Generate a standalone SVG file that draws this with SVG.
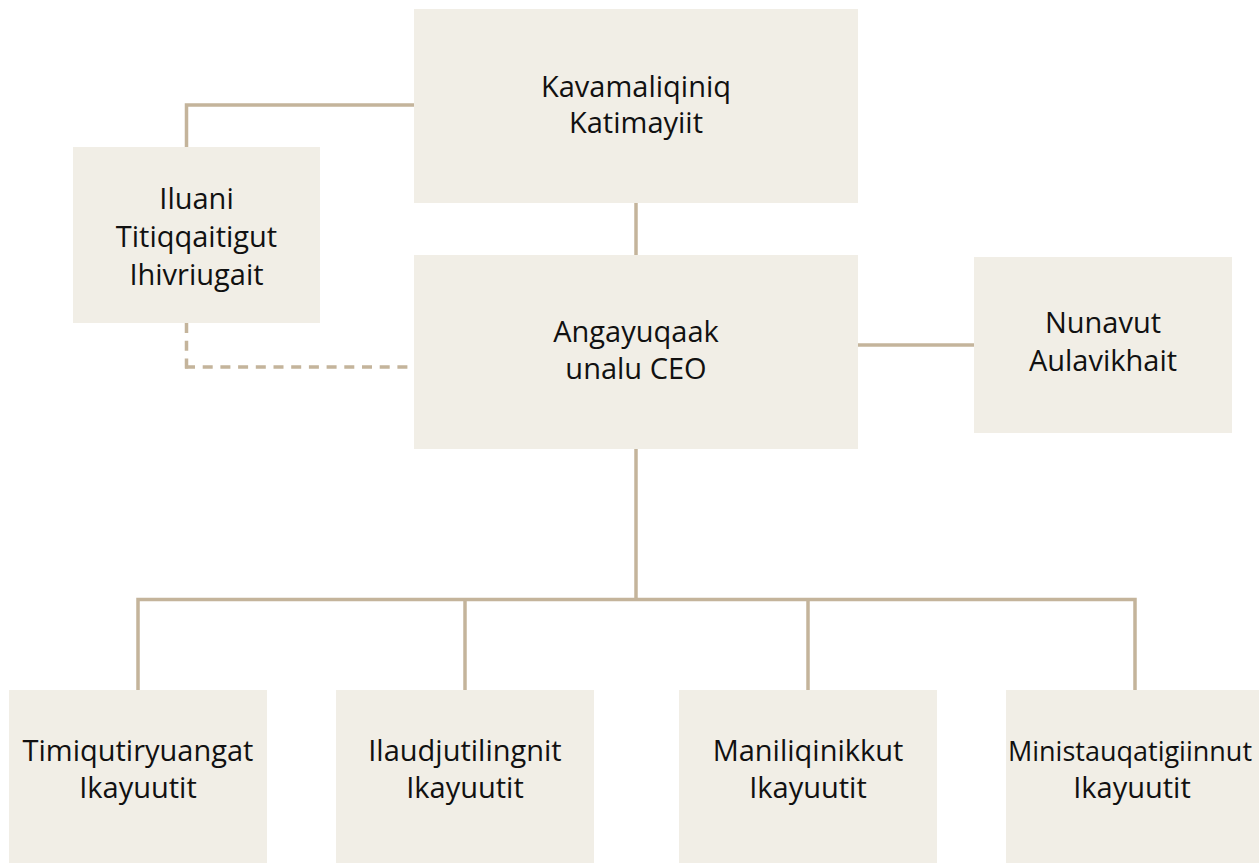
<svg xmlns="http://www.w3.org/2000/svg" width="1259" height="863" viewBox="0 0 1259 863">
<style>
.box{fill:#F1EEE6}
.lbl{font-family:"Open Sans","Noto Sans",sans-serif;font-size:29px;fill:#111111;text-anchor:middle}
.ln{stroke:#C4B49B;stroke-width:3.5;fill:none}
.dash{stroke-dasharray:10 7.7}
</style>
<rect width="1259" height="863" fill="#FFFFFF"/>
<g id="connectors">
<polyline class="ln" points="414,105 186.5,105 186.5,147"/>
<line class="ln dash" x1="186.5" y1="323" x2="186.5" y2="368.5"/>
<line class="ln dash" x1="185" y1="367" x2="414" y2="367"/>
<line class="ln" x1="636" y1="203" x2="636" y2="255"/>
<line class="ln" x1="858" y1="345" x2="974" y2="345"/>
<line class="ln" x1="636" y1="449" x2="636" y2="599.5"/>
<polyline class="ln" points="138,690 138,599.5 1135,599.5 1135,690"/>
<line class="ln" x1="465" y1="599.5" x2="465" y2="690"/>
<line class="ln" x1="808" y1="599.5" x2="808" y2="690"/>
</g>
<g id="board">
<rect class="box" x="414" y="9" width="444" height="194"/>
<text class="lbl" x="636" y="97">Kavamaliqiniq</text>
<text class="lbl" x="636" y="133">Katimayiit</text>
</g>
<g id="advisory">
<rect class="box" x="73" y="147" width="247" height="176"/>
<text class="lbl" x="196.5" y="209">Iluani</text>
<text class="lbl" x="196.5" y="247">Titiqqaitigut</text>
<text class="lbl" x="196.5" y="285">Ihivriugait</text>
</g>
<g id="ceo">
<rect class="box" x="414" y="255" width="444" height="194"/>
<text class="lbl" x="636" y="342">Angayuqaak</text>
<text class="lbl" x="636" y="379">unalu CEO</text>
</g>
<g id="nunavut">
<rect class="box" x="974" y="257" width="258" height="176"/>
<text class="lbl" x="1103" y="333">Nunavut</text>
<text class="lbl" x="1103" y="371">Aulavikhait</text>
</g>
<g id="dept1">
<rect class="box" x="9" y="690" width="258" height="173"/>
<text class="lbl" x="138" y="761">Timiqutiryuangat</text>
<text class="lbl" x="138" y="798">Ikayuutit</text>
</g>
<g id="dept2">
<rect class="box" x="336" y="690" width="258" height="173"/>
<text class="lbl" x="465" y="761">Ilaudjutilingnit</text>
<text class="lbl" x="465" y="798">Ikayuutit</text>
</g>
<g id="dept3">
<rect class="box" x="679" y="690" width="258" height="173"/>
<text class="lbl" x="808" y="761">Maniliqinikkut</text>
<text class="lbl" x="808" y="798">Ikayuutit</text>
</g>
<g id="dept4">
<rect class="box" x="1006" y="690" width="258" height="173"/>
<text class="lbl" x="1130" y="761" style="font-size:27px">Ministauqatigiinnut</text>
<text class="lbl" x="1132" y="798">Ikayuutit</text>
</g>
</svg>
